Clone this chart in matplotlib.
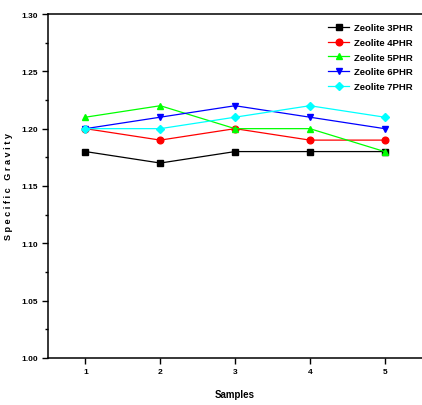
import matplotlib
matplotlib.use('Agg')
import matplotlib.pyplot as plt
from matplotlib.ticker import MultipleLocator

plt.rcParams['font.family'] = ['Liberation Sans', 'DejaVu Sans']
plt.rcParams['font.weight'] = 'bold'

samples = [1, 2, 3, 4, 5]
zeolite_3phr = [1.18, 1.17, 1.18, 1.18, 1.18]
zeolite_4phr = [1.20, 1.19, 1.20, 1.19, 1.19]
zeolite_5phr = [1.21, 1.22, 1.20, 1.20, 1.18]
zeolite_6phr = [1.20, 1.21, 1.22, 1.21, 1.20]
zeolite_7phr = [1.20, 1.20, 1.21, 1.22, 1.21]

series = [
    ('Zeolite 3PHR', zeolite_3phr, 'black', 's'),
    ('Zeolite 4PHR', zeolite_4phr, 'red', 'o'),
    ('Zeolite 5PHR', zeolite_5phr, '#00ff00', '^'),
    ('Zeolite 6PHR', zeolite_6phr, 'blue', 'v'),
    ('Zeolite 7PHR', zeolite_7phr, 'cyan', 'D'),
]

fig = plt.figure(figsize=(4.22, 4.06), dpi=100)
ax = fig.add_axes([0.114, 0.116, 0.886, 0.847])

for name, vals, col, mk in series:
    ms = 4 if mk == 'D' else 4.8
    ax.plot(samples, vals, color=col, marker=mk, markersize=ms, linewidth=0.9, label=name)

ax.set_xlim(0.5, 5.5)
ax.set_ylim(1.00, 1.30)
ax.set_xticks(samples)
ax.yaxis.set_major_locator(MultipleLocator(0.05))
ax.yaxis.set_minor_locator(MultipleLocator(0.025))
ax.yaxis.set_major_formatter(plt.FormatStrFormatter('%.2f'))
ax.tick_params(axis='both', which='major', labelsize=6, direction='out', length=4, width=1)
ax.tick_params(axis='y', which='minor', direction='out', length=2.5, width=1)
for lbl in ax.get_xticklabels() + ax.get_yticklabels():
    lbl.set_fontweight('bold')

ax.spines['right'].set_visible(False)
for s in ['left', 'bottom', 'top']:
    ax.spines[s].set_linewidth(1.1)

ax.set_xlabel('Samples', fontsize=7, fontweight='bold', labelpad=10)
ax.set_ylabel('S p e c i f i c   G r a v i t y', fontsize=6.6, fontweight='bold')
ax.yaxis.set_label_coords(-0.095, 0.5)

leg = ax.legend(loc='upper right', frameon=False, fontsize=6.8, handlelength=2.2,
                borderaxespad=0.6, labelspacing=0.6, handletextpad=0.5)
for t in leg.get_texts():
    t.set_fontweight('bold')

fig.savefig('out.png', dpi=100)
